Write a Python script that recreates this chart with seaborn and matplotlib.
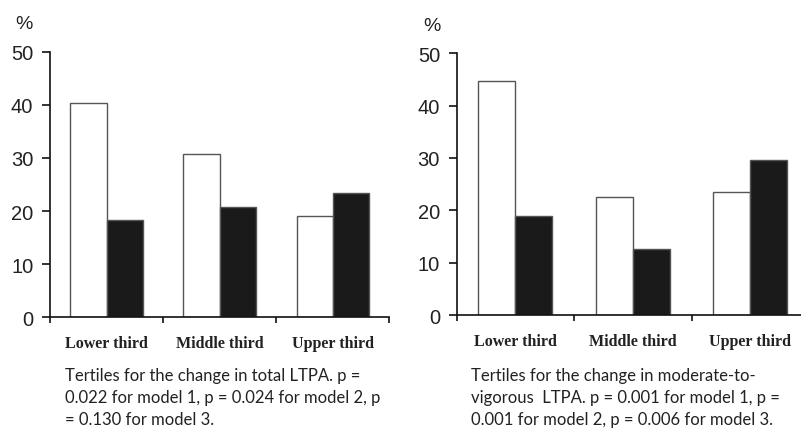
import matplotlib
matplotlib.use("Agg")
import matplotlib.pyplot as plt
from matplotlib.ticker import FixedLocator
import seaborn as sns
import pandas as pd

# Tertile categories and the two bar series for each panel (%)
categories = ["Lower third", "Middle third", "Upper third"]
series_names = ["Group A", "Group B"]
total_open = [40.3, 30.7, 19.1]
total_filled = [18.3, 20.8, 23.4]
mvpa_open = [44.8, 22.6, 23.5]
mvpa_filled = [19.0, 12.7, 29.6]

caption_total = [
    "Tertiles for the change in total LTPA. p =",
    "0.022 for model 1, p = 0.024 for model 2, p",
    "= 0.130 for model 3.",
]
caption_mvpa = [
    "Tertiles for the change in moderate-to-",
    "vigorous  LTPA. p = 0.001 for model 1, p =",
    "0.001 for model 2, p = 0.006 for model 3.",
]
y_ticks = [0, 10, 20, 30, 40, 50]


def make_frame(open_vals, filled_vals):
    rows = []
    for cat, a, b in zip(categories, open_vals, filled_vals):
        rows.append({"tertile": cat, "series": series_names[0], "pct": a})
        rows.append({"tertile": cat, "series": series_names[1], "pct": b})
    return pd.DataFrame(rows)


sns.set_style("ticks")
plt.rcParams["font.family"] = ["Liberation Sans", "DejaVu Sans"]

W, H = 801, 431
fig = plt.figure(figsize=(W / 100, H / 100), dpi=100)

panels = [
    # (frame, axes rect in px: left, bottom_y, right, top_y), bar width, caption, caption x
    (make_frame(total_open, total_filled), (50.0, 318.3, 389.3, 52.7), 0.64, caption_total, 65),
    (make_frame(mvpa_open, mvpa_filled), (456.7, 316.0, 809.2, 54.3), 0.63, caption_mvpa, 471),
]

for df, (l, b, r, t), bw, caption, cx in panels:
    ax = fig.add_axes([l / W, 1 - b / H, (r - l) / W, (b - t) / H])
    sns.barplot(
        data=df, x="tertile", y="pct", hue="series", order=categories,
        hue_order=series_names, palette=["white", "#1a1a1a"], width=bw,
        edgecolor="#555555", linewidth=1.0, errorbar=None, legend=False,
        saturation=1, ax=ax,
    )
    ax.set_xlim(-0.5, 2.5)
    ax.set_ylim(0, 50)
    ax.set_xlabel("")
    ax.set_ylabel("")
    sns.despine(ax=ax)
    for side in ("left", "bottom"):
        ax.spines[side].set_linewidth(1.2)
        ax.spines[side].set_color("#111111")
    ax.set_yticks(y_ticks)
    ax.tick_params(axis="y", length=6, width=1.2, pad=6, labelsize=14.5,
                   color="#111111", labelcolor="#222222")
    # category labels sit under each group; boundary ticks mark the groups
    ax.set_xticks(range(len(categories)))
    ax.set_xticklabels(categories, fontfamily=["Liberation Serif", "DejaVu Serif"],
                       fontweight="bold", fontsize=11.5, color="#222222")
    ax.xaxis.set_minor_locator(FixedLocator([-0.5, 0.5, 1.5, 2.5]))
    ax.tick_params(axis="x", which="major", length=0, pad=13)
    ax.tick_params(axis="x", which="minor", length=4.5, width=1.2, color="#111111")
    # percent sign above the y axis
    ax.text(-0.077 if cx < 400 else -0.071, 1.107, "%", transform=ax.transAxes,
            ha="center", va="center", fontsize=14, color="#222222")
    for i, line in enumerate(caption):
        fig.text(cx / W, 1 - (380.7 + 22.3 * i) / H, line, ha="left", va="baseline",
                 fontsize=12, fontfamily=["Lato", "DejaVu Sans"], color="#222222")

fig.savefig("out.png", dpi=100)
